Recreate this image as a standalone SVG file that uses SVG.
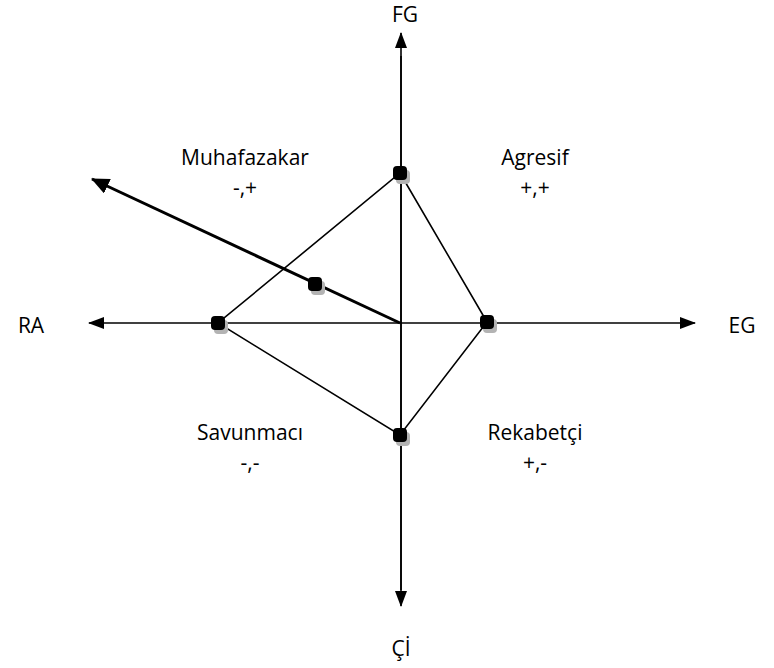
<svg xmlns="http://www.w3.org/2000/svg" width="774" height="668" viewBox="0 0 774 668">
<defs>
<marker id="ah" markerWidth="16" markerHeight="12" refX="15" refY="6" orient="auto" markerUnits="userSpaceOnUse" viewBox="0 0 16 12">
<path d="M0,0 L16,6 L0,12 z" fill="#000"/>
</marker>
<marker id="ahb" markerWidth="18" markerHeight="16" refX="17" refY="8" orient="auto" markerUnits="userSpaceOnUse" viewBox="0 0 18 16">
<path d="M0,0 L18,8 L0,16 z" fill="#000"/>
</marker>
</defs>
<style>
text{font-family:"Open Sans","Liberation Sans",sans-serif;font-size:21px;fill:#000;text-anchor:middle}
.ax{stroke:#000;stroke-width:1.6;fill:none}
.ln{stroke:#000;stroke-width:1.6;fill:none}
.sh{fill:#b3b3b3}
.pt{fill:#000}
</style>
<rect width="774" height="668" fill="#fff"/>
<g id="connectors">
<line class="ax" x1="401" y1="590" x2="401" y2="33" marker-end="url(#ah)"/>
<line class="ax" x1="401" y1="56" x2="401" y2="606" marker-end="url(#ah)"/>
<line class="ax" x1="401" y1="323" x2="89" y2="323" marker-end="url(#ah)"/>
<line class="ax" x1="401" y1="323" x2="695" y2="323" marker-end="url(#ah)"/>
<polygon class="ln" points="400,173 487,322 400,435 218,323"/>
<line x1="400" y1="323" x2="92" y2="179" stroke="#000" stroke-width="3" marker-end="url(#ahb)"/>
</g>
<g id="point-fg">
<rect class="sh" x="396" y="170" width="14" height="14" rx="4"/>
<rect class="pt" x="393" y="166" width="14" height="14" rx="4"/>
</g>
<g id="point-ra">
<rect class="sh" x="214" y="320" width="14" height="14" rx="4"/>
<rect class="pt" x="211" y="316" width="14" height="14" rx="4"/>
</g>
<g id="point-eg">
<rect class="sh" x="483" y="319" width="14" height="14" rx="4"/>
<rect class="pt" x="480" y="315" width="14" height="14" rx="4"/>
</g>
<g id="point-ci">
<rect class="sh" x="396" y="432" width="14" height="14" rx="4"/>
<rect class="pt" x="393" y="428" width="14" height="14" rx="4"/>
</g>
<g id="point-vector">
<rect class="sh" x="311" y="281" width="14" height="14" rx="4"/>
<rect class="pt" x="308" y="277" width="14" height="14" rx="4"/>
</g>
<g id="label-fg"><text x="405" y="22">FG</text></g>
<g id="label-ci"><text x="401" y="656">Çİ</text></g>
<g id="label-ra"><text x="31" y="333">RA</text></g>
<g id="label-eg"><text x="742" y="333">EG</text></g>
<g id="quadrant-muhafazakar"><text x="245" y="165">Muhafazakar</text><text x="245" y="195">-,+</text></g>
<g id="quadrant-agresif"><text x="535" y="165">Agresif</text><text x="535" y="195">+,+</text></g>
<g id="quadrant-savunmaci"><text x="250" y="440">Savunmacı</text><text x="250" y="470">-,-</text></g>
<g id="quadrant-rekabetci"><text x="535" y="440">Rekabetçi</text><text x="535" y="470">+,-</text></g>
</svg>
